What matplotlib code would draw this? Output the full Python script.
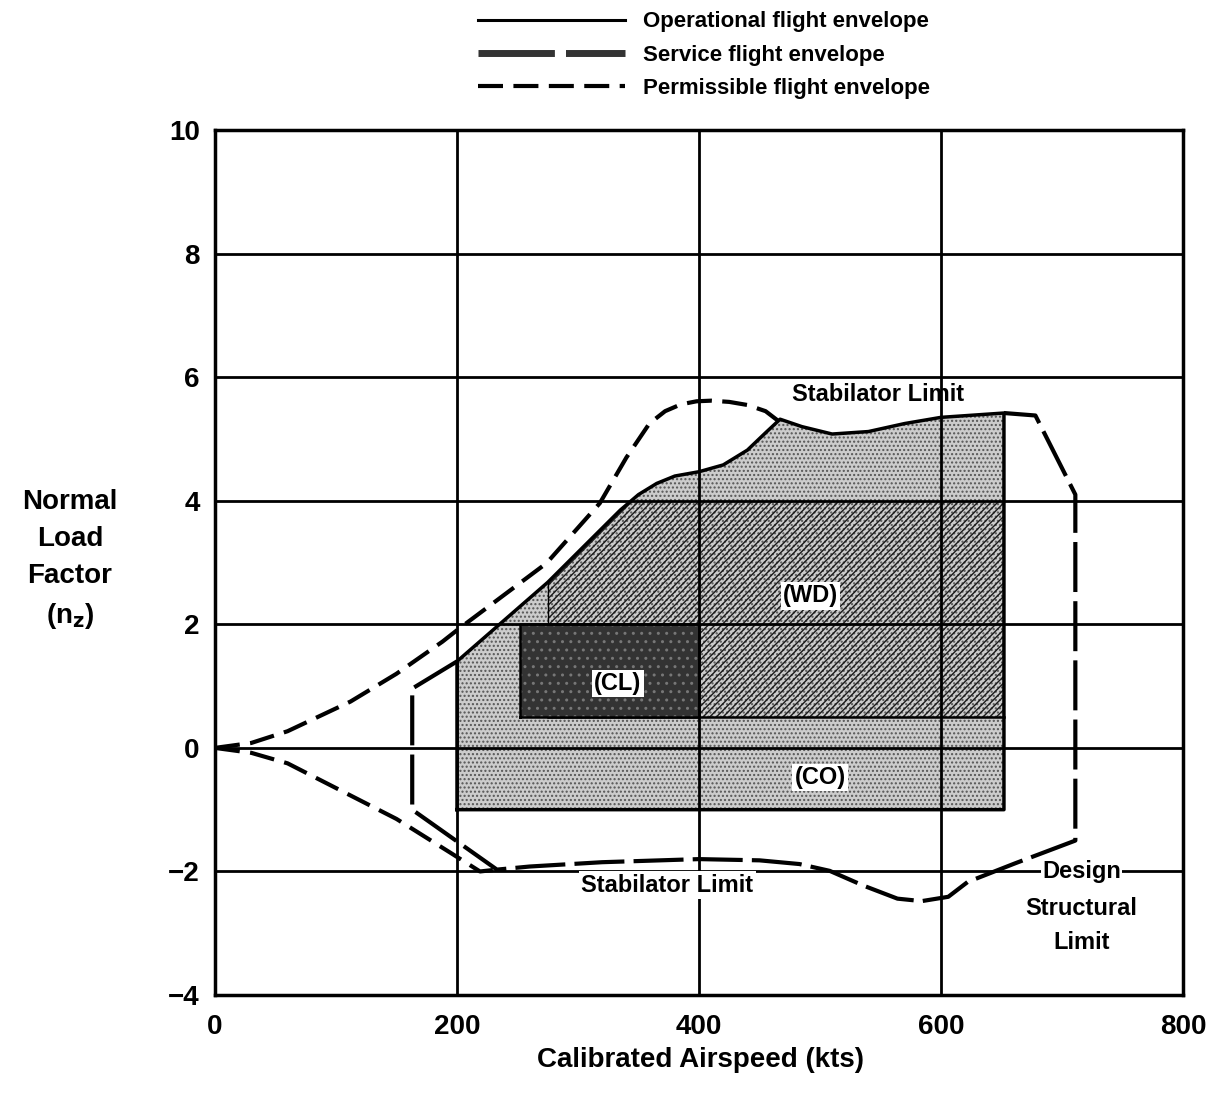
import numpy as np
import matplotlib
matplotlib.use("Agg")
import matplotlib.pyplot as plt
from matplotlib.lines import Line2D

plt.rcParams["font.family"] = ["Liberation Sans", "DejaVu Sans"]
plt.rcParams["font.weight"] = "bold"
plt.rcParams["hatch.linewidth"] = 1.0

# operational flight envelope (solid)
op_x = [200, 200, 275, 335, 350, 365, 380, 400, 420, 440, 455, 467, 485, 510, 540, 570, 600, 652, 652]
op_y = [-1.0, 1.4, 2.68, 3.85, 4.1, 4.28, 4.4, 4.47, 4.58, 4.82, 5.1, 5.32, 5.2, 5.08, 5.12, 5.25, 5.35, 5.42, -1.0]

# service flight envelope (long dashes)
sv_x = [200, 163, 163, 233, 260, 320, 400, 450, 483, 508, 536, 564, 584, 606, 622, 661, 711, 711, 678, 652]
sv_y = [1.4, 0.96, -1.0, -1.97, -1.92, -1.85, -1.8, -1.82, -1.88, -1.99, -2.23, -2.44, -2.48, -2.41, -2.17, -1.87, -1.5, 4.1, 5.38, 5.42]

# permissible flight envelope (dashed)
pu_x = [0, 30, 60, 112, 150, 188, 201, 274, 318, 340, 359, 372, 385, 398, 410, 425, 440, 455, 465]
pu_y = [0, 0.08, 0.27, 0.75, 1.2, 1.72, 1.92, 2.99, 3.96, 4.7, 5.25, 5.45, 5.56, 5.61, 5.62, 5.6, 5.55, 5.45, 5.3]
pl_x = [0, 30, 60, 112, 150, 194, 219, 233]
pl_y = [0, -0.08, -0.25, -0.77, -1.15, -1.69, -2.0, -1.97]

# flight phase regions
wd_x = [275, 652, 652, 342, 275]
wd_y = [0.5, 0.5, 4.0, 4.0, 2.68]
cl_x = [252, 400, 400, 252]
cl_y = [0.5, 0.5, 2.0, 2.0]

fig = plt.figure(figsize=(12.18, 11.04), dpi=100)
ax = fig.add_axes([0.1765, 0.0987, 0.7948, 0.7835])

ax.fill(op_x, op_y, facecolor="#cccccc", edgecolor="#555555", hatch="....", linewidth=0, zorder=1)
ax.fill(wd_x, wd_y, facecolor="none", edgecolor="#1a1a1a", hatch="/////", linewidth=0, zorder=1.1)
ax.plot(wd_x[:2], wd_y[:2], color="black", lw=1.8, zorder=1.2)
ax.plot([wd_x[0], wd_x[-1]], [wd_y[0], wd_y[-1]], color="black", lw=1.0, zorder=1.2)
ax.fill(cl_x, cl_y, facecolor="#333333", edgecolor="#777777", hatch="..", linewidth=0, zorder=1.3)
ax.plot(cl_x + cl_x[:1], cl_y + cl_y[:1], color="black", lw=1.8, zorder=1.4)

ax.plot(op_x + op_x[:1], op_y + op_y[:1], color="black", lw=2.5, zorder=3)
ax.plot(sv_x, sv_y, color="black", lw=3, ls=(0, (12, 2.2)), zorder=3)
ax.plot(pu_x, pu_y, color="black", lw=3, ls=(0, (6, 2.5)), zorder=3)
ax.plot(pl_x, pl_y, color="black", lw=3, ls=(0, (6, 2.5)), zorder=3)

box = dict(facecolor="white", edgecolor="none", pad=1.5)
ax.text(333, 1.04, "(CL)", fontsize=17, ha="center", va="center", bbox=box, zorder=4)
ax.text(492, 2.46, "(WD)", fontsize=17, ha="center", va="center", bbox=box, zorder=4)
ax.text(500, -0.48, "(CO)", fontsize=17, ha="center", va="center", bbox=box, zorder=4)
ax.text(548, 5.72, "Stabilator Limit", fontsize=17, ha="center", va="center", zorder=4)
ax.text(374, -2.22, "Stabilator Limit", fontsize=17, ha="center", va="center", bbox=box, zorder=4)
ax.text(716, -2.0, "Design", fontsize=17, ha="center", va="center",
        bbox=dict(facecolor="white", edgecolor="none", pad=0.5), zorder=4)
ax.text(716, -2.6, "Structural", fontsize=17, ha="center", va="center", zorder=4)
ax.text(716, -3.15, "Limit", fontsize=17, ha="center", va="center", zorder=4)

ax.set_xlim(0, 800)
ax.set_ylim(-4, 10)
ax.set_xticks([0, 200, 400, 600, 800])
ax.set_yticks([-4, -2, 0, 2, 4, 6, 8, 10])
ax.set_yticklabels(["\u22124", "\u22122", "0", "2", "4", "6", "8", "10"])
ax.tick_params(length=0, labelsize=20, pad=11)
ax.tick_params(axis="x", pad=14)
ax.grid(True, color="black", lw=2)
ax.set_axisbelow(False)
for s in ax.spines.values():
    s.set_linewidth(2.5)

fig.text(0.0575, 0.493, "Normal\nLoad\nFactor\n(n$_\\mathbf{z}$)", fontsize=20, ha="center",
         va="center", linespacing=1.55)
fig.text(0.575, 0.04, "Calibrated Airspeed (kts)", fontsize=20, ha="center", va="center")

handles = [
    Line2D([], [], color="black", lw=2.2),
    Line2D([], [], color="#333333", lw=5, ls=(0, (11, 1.6))),
    Line2D([], [], color="black", lw=3, ls=(0, (6, 2.5))),
]
labels = ["Operational flight envelope", "Service flight envelope", "Permissible flight envelope"]
ax.legend(handles, labels, loc="lower left", bbox_to_anchor=(0.272, 1.036), frameon=False,
          fontsize=16, handlelength=6.6, handletextpad=0.8, labelspacing=0.55,
          borderaxespad=0, borderpad=0)

fig.savefig("out.png", dpi=100)
